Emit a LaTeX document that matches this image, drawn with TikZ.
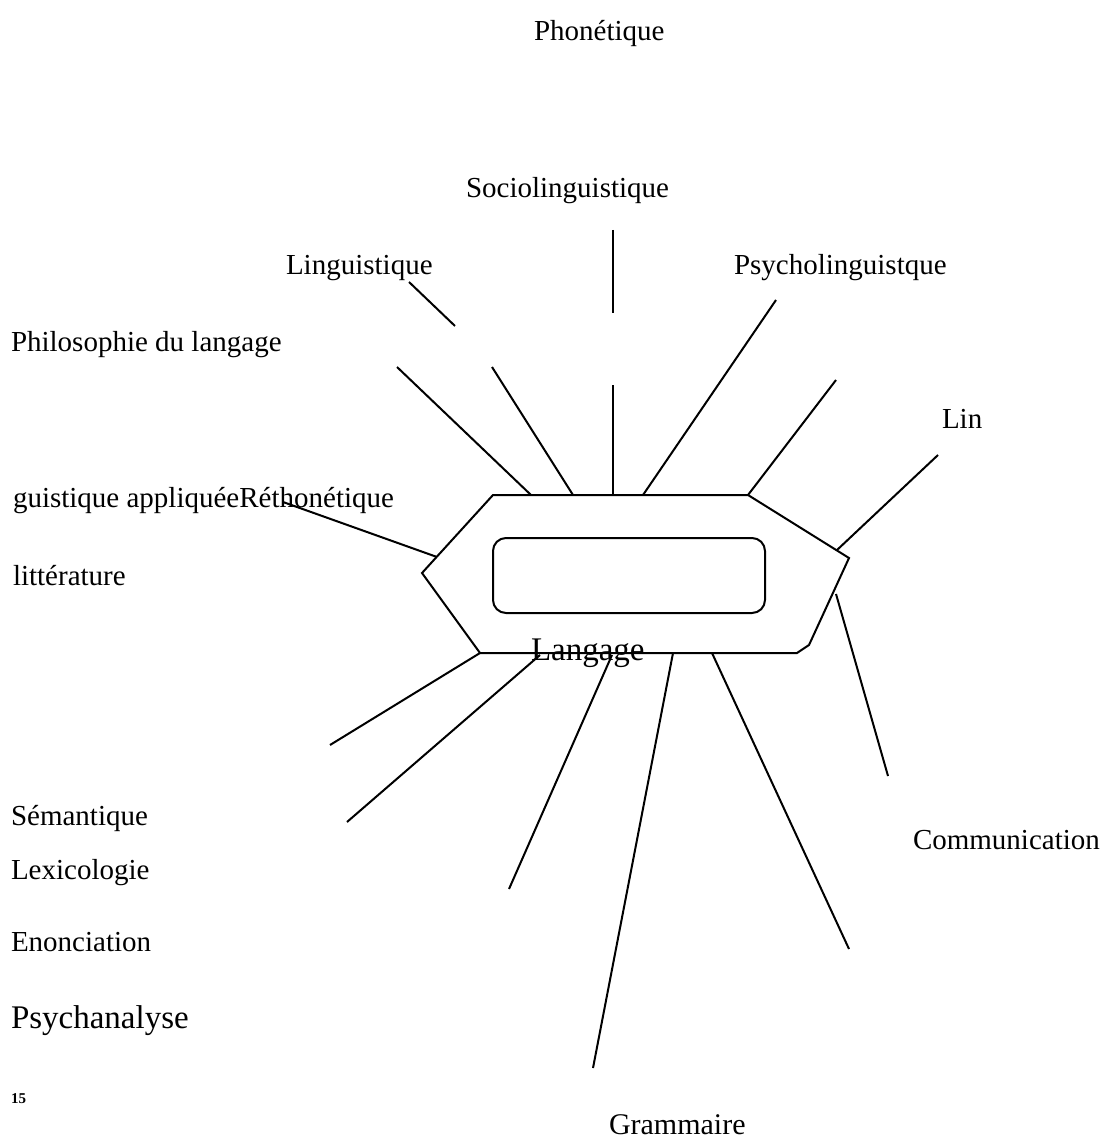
\documentclass[tikz,border=0pt]{standalone}
\usepackage{fontspec}
\setmainfont{Liberation Serif}
\begin{document}
\begin{tikzpicture}[x=0.5pt,y=-0.5pt,line width=1pt,
  every node/.style={font=\fontsize{14.5}{17}\selectfont,inner sep=0pt},
  lbl/.style={anchor=base west},
  big/.style={font=\fontsize{16.5}{19}\selectfont}]
\useasboundingbox (0,0) rectangle (1103,1144);
% labels, top
\node[lbl] (phon) at (533,41) {Phonétique};
\node[lbl] (socio) at (465,198) {Sociolinguistique};
\node[lbl] (ling) at (285,275) {Linguistique};
\node[lbl] (psycho) at (733,275) {Psycholinguistque};
\node[lbl] (philo) at (10,351) {Philosophie du langage};
\node[lbl] (lin) at (941,428) {Lin};
\node[lbl] (appl) at (12,507) {guistique appliquéeRéthonétique};
\node[lbl] (litt) at (12,585) {littérature};
% labels, bottom
\node[lbl] (sem) at (10,825) {Sémantique};
\node[lbl] (lexi) at (10,879) {Lexicologie};
\node[lbl] (enon) at (10,951) {Enonciation};
\node[lbl,big] (psyan) at (10,1028) {Psychanalyse};
\node[lbl] (comm) at (912,849) {Communication};
\node[lbl,font=\fontsize{7.5}{9}\selectfont\bfseries] (pnum) at (10,1103) {15};
\node[lbl,font=\fontsize{15}{18}\selectfont] (gram) at (608,1134) {Grammaire};
% hexagon + inner box
\coordinate (h1) at (493,495); \coordinate (h2) at (748,495);
\coordinate (h3) at (849,558); \coordinate (h4) at (809,645);
\coordinate (h5) at (797,653); \coordinate (h6) at (480,653);
\coordinate (h7) at (422,573);
\draw (h1) -- (h2) -- (h3) -- (h4) -- (h5) -- (h6) -- (h7) -- cycle;
\node[draw,rounded corners=6.5pt,minimum width=136pt,minimum height=37.5pt] (box) at (629,575.5) {};
\node[lbl,big] (lang) at (530,660) {Langage};
% rays
\foreach \i/\ax/\ay/\bx/\by in {1/409/282/455/326, 2/613/230/613/313, 3/613/385/613/495,
  4/397/367/531/495, 5/492/367/573/495, 6/643/495/776/300, 7/748/495/836/380,
  8/837/550/938/455, 9/283/502/437/557, 10/480/653/330/745, 11/540/655/347/822,
  12/612/655/509/889, 13/673/653/593/1068, 14/712/653/849/949, 15/836/594/888/776}
  {\coordinate (ra\i) at (\ax,\ay); \coordinate (rb\i) at (\bx,\by);
   \draw (ra\i) -- (rb\i);}
\end{tikzpicture}
\end{document}
